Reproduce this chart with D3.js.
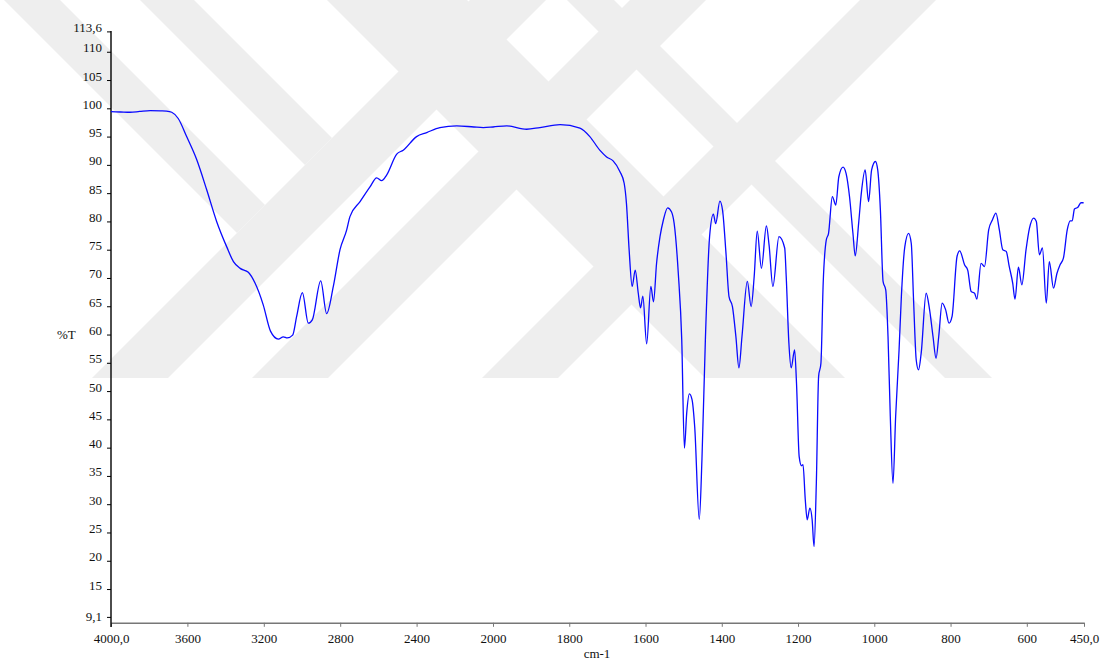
<!DOCTYPE html>
<html><head><meta charset="utf-8">
<script src="https://cdn.jsdelivr.net/npm/d3@7"></script>
<style>body{margin:0;background:#fff}svg{display:block}</style>
</head><body><svg id="c" width="1104" height="663"></svg>
<script>
// ---- data ----
const wavenumbers = [4000,3950,3900,3850,3795,3740,3709,3682,3648,3604,3551,3499,3447,3394,3359,3324,3281,3246,3203,3165,3124,3098,3077,3049,3028,2998,2967,2946,2902,2871,2836,2801,2766,2749,2696,2644,2609,2583,2557,2504,2470,2400,2347,2278,2190,2100,2051,2000,1964,1912,1877,1824,1772,1746,1720,1702,1685,1667,1656,1650,1643,1635,1627,1619,1613,1607,1597,1586,1579,1571,1562,1553,1542,1532,1525,1514,1505,1498,1492,1485,1478,1471,1459,1452,1443,1432,1422,1416,1405,1398,1389,1381,1372,1363,1355,1347,1333,1323,1315,1307,1296,1283,1276,1266,1250,1235,1231,1224,1218,1209,1204,1197,1191,1187,1181,1176,1169,1163,1158,1152,1146,1140,1134,1126,1120,1110,1101,1093,1082,1074,1065,1056,1050,1041,1034,1024,1015,1007,997,991,984,977,970,964,958,951,944,935,929,920,910,903,897,890,884,877,864,855,846,838,831,822,813,804,796,783,776,763,755,746,737,731,720,711,700,690,681,672,663,654,646,637,631,622,613,602,593,582,575,567,559,549,541,530,521,513,504,494,486,481,475,466,458,451];
const transmittance = [99.4,99.35,99.3,99.45,99.6,99.55,99.5,99.3,98.2,95.0,90.9,85.6,80.0,75.5,72.9,71.7,71.0,69.1,65.25,60.6,59.2,59.6,59.4,59.9,63.2,67.4,62.0,62.6,69.5,63.7,68.5,75.0,78.5,80.85,83.5,86.1,87.7,87.2,88.2,91.9,92.6,95.0,95.7,96.6,96.9,96.7,96.6,96.7,96.9,96.3,96.6,97.1,96.5,95.0,92.6,91.4,90.7,88.8,86.75,83.2,75.0,68.5,71.4,67.3,64.7,66.8,58.35,68.5,65.8,72.6,77.3,80.3,82.4,81.7,79.7,70.8,59.1,39.9,46.1,49.5,48.5,43.7,27.3,37.9,59.1,77.3,81.3,79.6,83.6,82.0,74.4,66.7,64.95,59.65,54.1,59.65,69.4,64.95,70.25,78.3,71.7,79.2,75.85,68.5,77.3,75.3,70.25,58.5,54.1,57.3,51.4,38.4,36.8,37.0,30.8,27.25,29.3,27.25,22.5,33.7,52.6,54.9,69.1,76.7,77.9,84.4,82.9,87.9,89.6,88.5,84.4,77.9,73.9,79.7,85.0,89.1,83.5,89.1,90.6,89.1,82.0,69.4,67.9,59.65,45.5,33.7,45.5,57.3,66.7,75.5,77.9,76.1,66.1,55.5,53.75,56.7,67.3,64.4,59.65,55.8,59.65,65.55,64.4,62.0,63.2,73.8,74.8,72.3,71.4,67.6,67.3,66.25,72.6,72.0,78.5,80.3,81.45,78.5,75.0,74.7,72.0,69.1,66.25,71.9,68.8,75.0,78.8,80.6,80.0,74.1,75.3,65.55,72.9,68.2,70.8,72.3,73.5,78.5,80.1,80.1,82.2,82.5,83.3,83.3];
const xTicks = [4000,3600,3200,2800,2400,2000,1800,1600,1400,1200,1000,800,600,450];
const xTickLabels = ["4000,0","3600","3200","2800","2400","2000","1800","1600","1400","1200","1000","800","600","450,0"];
const yTicks = [113.6,110,105,100,95,90,85,80,75,70,65,60,55,50,45,40,35,30,25,20,15,9.1];
const yTickLabels = ["113,6","110","105","100","95","90","85","80","75","70","65","60","55","50","45","40","35","30","25","20","15","9,1"];
const xTitle = "cm-1";
const yTitle = "%T";

// ---- background watermark bands (decoration) ----
const wmUp = [[470,546],[630,706],[860,936]];
const wmDown = [[4,60,470],[140,194,470],[327,467,null],[567,614,null]];

const svg = d3.select("#c");
const FONT = "'Liberation Serif','Times New Roman',serif";
const wmBottom = 378;
const wm = svg.append("g").attr("fill","#eeeeee");
wmUp.forEach(([a,b]) => {
  wm.append("polygon").attr("points", [[a,0],[b,0],[b-wmBottom,wmBottom],[a-wmBottom,wmBottom]].map(p=>p.join(",")).join(" "));
});
wmDown.forEach(([a,b,s]) => {
  const pts = s ? [[a,0],[b,0],[(s+b)/2,(s-b)/2],[(s+a)/2,(s-a)/2]]
                : [[a,0],[b,0],[b+wmBottom,wmBottom],[a+wmBottom,wmBottom]];
  wm.append("polygon").attr("points", pts.map(p=>p.join(",")).join(" "));
});

// ---- scales (split x-scale as in the instrument plot) ----
const x = d3.scaleLinear().domain([4000,2000,450]).range([111,493,1084]);
const y = d3.scaleLinear().domain([9.1,113.6]).range([622.4,31.4]);

// x axis
const xAxisY = 622.8;
const gx = svg.append("g").attr("transform",`translate(0,${xAxisY})`)
  .call(d3.axisBottom(x).tickValues(xTicks).tickFormat((d,i)=>xTickLabels[i]).tickSize(4).tickSizeOuter(0).tickPadding(7));
gx.select(".domain").attr("stroke","#777").attr("stroke-width",1.6);
gx.selectAll(".tick line").attr("stroke","#777");
gx.selectAll(".tick text").attr("font-family",FONT).attr("font-size",13).attr("fill","#111");

// y axis
const gy = svg.append("g").attr("transform","translate(111,0)")
  .call(d3.axisLeft(y).tickValues(yTicks).tickFormat((d,i)=>yTickLabels[i]).tickSize(4).tickSizeOuter(0).tickPadding(5));
gy.select(".domain").remove();
gy.append("line").attr("x1",0).attr("x2",0).attr("y1",31).attr("y2",627).attr("stroke","#000").attr("stroke-width",1.4);
gy.selectAll(".tick line").attr("stroke","#000");
gy.selectAll(".tick text").attr("font-family",FONT).attr("font-size",13).attr("fill","#111").attr("dy","0");
gy.selectAll(".tick").filter(d=>d===9.1).attr("transform",`translate(0,${y(9.1)-5})`).select("text").attr("dy","4");

// titles
svg.append("text").attr("x",597).attr("y",658).attr("text-anchor","middle")
  .attr("font-family",FONT).attr("font-size",13).attr("fill","#111").text(xTitle);
svg.append("text").attr("x",57).attr("y",339)
  .attr("font-family",FONT).attr("font-size",13).attr("fill","#111").text(yTitle);

// spectrum
const pts = wavenumbers.map((w,i)=>[w,transmittance[i]]);
svg.append("path").datum(pts)
  .attr("fill","none").attr("stroke","#0a0aff").attr("stroke-width",1.3)
  .attr("d", d3.line().x(d=>x(d[0])).y(d=>y(d[1])).curve(d3.curveMonotoneX));
</script>
</body></html>
